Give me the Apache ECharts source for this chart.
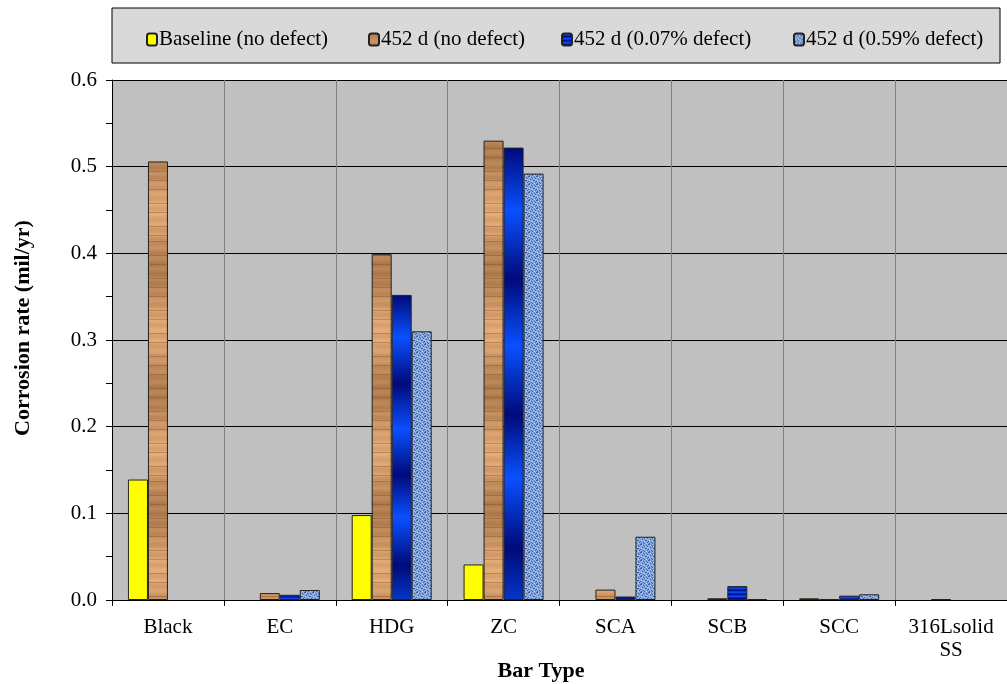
<!DOCTYPE html>
<html>
<head>
<meta charset="utf-8">
<script src="https://cdn.jsdelivr.net/npm/echarts@6/dist/echarts.min.js"></script>
<style>
  html, body { margin: 0; padding: 0; background: #fff; }
  #chart { width: 1007px; height: 684px; }
</style>
</head>
<body>
<div id="chart"></div>
<script>
const categories = ["Black", "EC", "HDG", "ZC", "SCA", "SCB", "SCC", "316Lsolid\nSS"];
const seriesNames = ["Baseline (no defect)", "452 d (no defect)", "452 d (0.07% defect)", "452 d (0.59% defect)"];
const baseline = [0.139, "-", 0.098, 0.041, "-", "-", 0.002, "-"];
const noDefect452 = [0.506, 0.008, 0.399, 0.53, 0.012, 0.002, 0.001, 0.001];
const defect007 = ["-", 0.006, 0.352, 0.522, 0.004, 0.016, 0.005, "-"];
const defect059 = ["-", 0.0115, 0.31, 0.492, 0.073, 0.001, 0.0066, "-"];
const yTicks = [0, 0.1, 0.2, 0.3, 0.4, 0.5, 0.6];

const FONT = '"Liberation Serif", "Times New Roman", serif';

// wood-like texture for the 452 d (no defect) bars
function woodPattern() {
  const c = document.createElement("canvas");
  c.width = 20; c.height = 240;
  const ctx = c.getContext("2d");
  for (let y = 0; y < c.height; y++) {
    let f = 0.45 + 0.35 * Math.sin(y * 0.052) + 0.12 * Math.sin(y * 0.61);
    f = Math.max(0, Math.min(1, f));
    const r = Math.round(228 - 62 * f), g = Math.round(172 - 58 * f), b = Math.round(120 - 50 * f);
    ctx.fillStyle = "rgb(" + r + "," + g + "," + b + ")";
    ctx.fillRect(0, y, c.width, 1);
    if (Math.sin(y * 1.37) > 0.96) {
      ctx.fillStyle = "rgba(120,75,40,0.35)";
      ctx.fillRect(0, y, c.width, 1);
    }
  }
  return c;
}

// speckled light-blue texture for the 0.59% bars
function speckPattern() {
  const c = document.createElement("canvas");
  c.width = 8; c.height = 8;
  const ctx = c.getContext("2d");
  ctx.fillStyle = "#88a8e0";
  ctx.fillRect(0, 0, 8, 8);
  ctx.fillStyle = "#3f5f9c";
  const dots = [[0,0],[1,0],[3,1],[4,2],[6,1],[2,3],[5,4],[6,4],[0,5],[3,6],[7,6],[1,7],[4,7],[7,2]];
  dots.forEach(d => ctx.fillRect(d[0], d[1], 1, 1));
  ctx.fillStyle = "#bcd2f8";
  [[2,1],[5,2],[7,3],[1,4],[4,5],[6,7]].forEach(d => ctx.fillRect(d[0], d[1], 1, 1));
  return c;
}

const blueGradient = {
  type: "linear", x: 0, y: 0, x2: 0, y2: 1,
  colorStops: [
    { offset: 0, color: "#000a7a" },
    { offset: 0.14, color: "#0a50ff" },
    { offset: 0.29, color: "#000a7a" },
    { offset: 0.44, color: "#0a50ff" },
    { offset: 0.59, color: "#000a7a" },
    { offset: 0.73, color: "#0a50ff" },
    { offset: 0.885, color: "#000a7a" },
    { offset: 1, color: "#0636c8" }
  ]
};

const fills = [
  "#ffff00",
  { image: woodPattern(), repeat: "repeat" },
  blueGradient,
  { image: speckPattern(), repeat: "repeat" }
];
const values = [baseline, noDefect452, defect007, defect059];
const legendLeft = [146, 368, 561, 793];

const chart = echarts.init(document.getElementById("chart"), null, { renderer: "canvas" });

chart.setOption({
  animation: false,
  backgroundColor: "#ffffff",
  graphic: [
    {
      type: "rect",
      shape: { x: 112, y: 8, width: 888, height: 55 },
      style: { fill: "#d9d9d9", stroke: "#000", lineWidth: 1 },
      z: 0
    },
    {
      type: "text",
      x: 541, y: 671,
      style: { text: "Bar Type", font: "bold 22px " + FONT, fill: "#000", align: "center", verticalAlign: "middle" }
    },
    {
      type: "text",
      x: 23, y: 328,
      rotation: Math.PI / 2,
      style: { text: "Corrosion rate (mil/yr)", font: "bold 22px " + FONT, fill: "#000", align: "center", verticalAlign: "middle" }
    }
  ],
  legend: seriesNames.map((name, i) => ({
    data: [name],
    left: legendLeft[i],
    top: 29,
    itemWidth: 10,
    itemHeight: 12,
    itemGap: 0,
    padding: 0,
    textStyle: { fontFamily: FONT, fontSize: 21, color: "#000", padding: [0, 0, 0, -3] },
    z: 5
  })),
  grid: { left: 112, top: 80, width: 898, height: 520, show: true, backgroundColor: "#c0c0c0", borderWidth: 0 },
  xAxis: {
    type: "category",
    data: categories,
    axisLine: { lineStyle: { color: "#000", width: 1 } },
    axisTick: { show: true, length: 6, lineStyle: { color: "#000" } },
    axisLabel: { fontFamily: FONT, fontSize: 21, color: "#000", margin: 16, lineHeight: 23 },
    splitLine: { show: true, lineStyle: { color: "#808080", width: 1 } }
  },
  yAxis: {
    type: "value",
    min: 0, max: 0.6, interval: 0.1,
    axisLine: { show: true, lineStyle: { color: "#000", width: 1 } },
    axisTick: { show: true, length: 6, lineStyle: { color: "#000" } },
    minorTick: { show: true, splitNumber: 2, length: 6, lineStyle: { color: "#000" } },
    axisLabel: {
      fontFamily: FONT, fontSize: 21, color: "#000", margin: 15,
      formatter: v => yTicks.indexOf(Math.round(v * 10) / 10) >= 0 ? v.toFixed(1) : ""
    },
    splitLine: { show: true, lineStyle: { color: "#000", width: 1 } }
  },
  series: seriesNames.map((name, i) => ({
    name: name,
    type: "bar",
    data: values[i],
    barWidth: 20,
    barGap: "0%",
    itemStyle: { color: fills[i], borderColor: "#222", borderWidth: 1 }
  }))
});
</script>
</body>
</html>
